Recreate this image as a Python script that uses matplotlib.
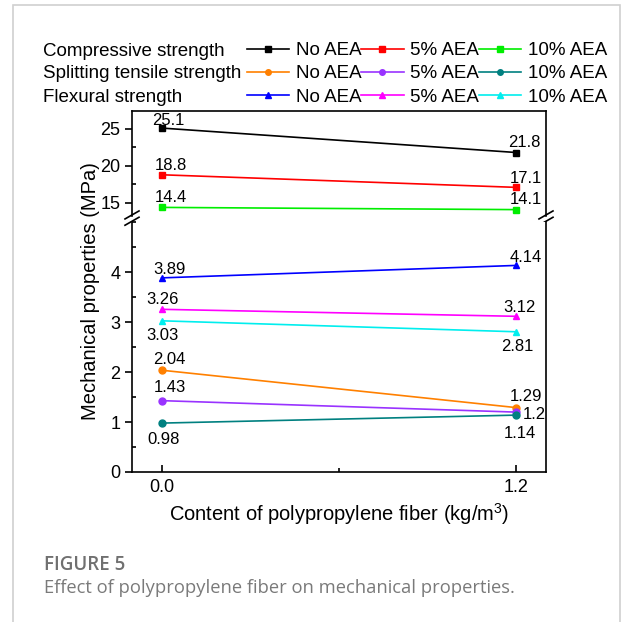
import matplotlib
matplotlib.use('Agg')
import matplotlib.pyplot as plt
from matplotlib.lines import Line2D
from matplotlib.patches import Rectangle
from matplotlib.ticker import MultipleLocator

plt.rcParams['font.family'] = ['Liberation Sans', 'DejaVu Sans']
plt.rcParams['mathtext.default'] = 'regular'

# data
fiber = [0.0, 1.2]
groups = ['Compressive strength', 'Splitting tensile strength', 'Flexural strength']
series_names = ['No AEA', '5% AEA', '10% AEA']
compressive = [[25.1, 21.8], [18.8, 17.1], [14.4, 14.1]]
splitting = [[2.04, 1.29], [1.43, 1.2], [0.98, 1.14]]
flexural = [[3.89, 4.14], [3.26, 3.12], [3.03, 2.81]]

colors = {
    'Compressive strength': ['#000000', '#ff0000', '#00ee00'],
    'Splitting tensile strength': ['#ff8000', '#9933ff', '#008080'],
    'Flexural strength': ['#0000ff', '#ff00ff', '#00eeee'],
}
markers = {'Compressive strength': 's', 'Splitting tensile strength': 'o', 'Flexural strength': '^'}

# label offsets in pixels (start, end) for each series
offsets = {
    'Compressive strength': [[(7, 8), (8, 10)], [(9, 9), (9, 9)], [(9, 10), (9, 10)]],
    'Splitting tensile strength': [[(8, 11), (10, 11)], [(8, 13), (6, -2)], [(2, -16), (3, -18)]],
    'Flexural strength': [[(8, 8), (9, 8)], [(1, 10), (3, 9)], [(1, -15), (1, -15)]],
}

fig = plt.figure(figsize=(6.25, 6.22), dpi=100)
W, H = 625, 622
left, right = 132 / W, 546 / W
top_bottom = (H - 216) / H
ax_top = fig.add_axes([left, top_bottom, right - left, (H - 111) / H - top_bottom])
low_top = (H - 222) / H
low_bottom = (H - 472) / H
ax_low = fig.add_axes([left, low_bottom, right - left, low_top - low_bottom])

data = {'Compressive strength': compressive,
        'Splitting tensile strength': splitting,
        'Flexural strength': flexural}

handles = {}
for g in groups:
    ax = ax_top if g == 'Compressive strength' else ax_low
    handles[g] = []
    for i, vals in enumerate(data[g]):
        c = colors[g][i]
        ax.plot(fiber, vals, color=c, marker=markers[g], markersize=5, lw=1.2)
        handles[g].append(Line2D([], [], color=c, marker=markers[g], markersize=4, lw=1.2))
        for j, v in enumerate(vals):
            dx, dy = offsets[g][i][j]
            ha = 'left' if (g == 'Splitting tensile strength' and i == 1 and j == 1) else 'center'
            ax.annotate(f'{v:g}', (fiber[j], v), xytext=(dx, dy),
                        textcoords='offset pixels', ha=ha, va='center', fontsize=12)

for ax in (ax_top, ax_low):
    ax.set_xlim(-0.1, 1.3)
    for s in ax.spines.values():
        s.set_linewidth(1.2)
ax_top.set_ylim(13.24, 27.4)
ax_low.set_ylim(0, 5.01)
ax_top.spines['bottom'].set_visible(False)
ax_low.spines['top'].set_visible(False)
ax_top.set_yticks([15, 20, 25])
ax_top.yaxis.set_minor_locator(MultipleLocator(2.5))
ax_low.set_yticks([0, 1, 2, 3, 4])
ax_low.yaxis.set_minor_locator(MultipleLocator(0.5))
ax_top.set_xticks([])
ax_top.tick_params(axis='x', which='both', bottom=False, labelbottom=False)
ax_low.set_xticks(fiber)
ax_low.set_xticklabels(['0.0', '1.2'])
ax_low.xaxis.set_minor_locator(MultipleLocator(0.6))
for ax in (ax_top, ax_low):
    ax.tick_params(axis='y', which='major', direction='out', length=5, width=1.2, labelsize=13)
    ax.tick_params(axis='y', which='minor', direction='in', length=3, width=1.2)
ax_low.tick_params(axis='x', which='major', direction='in', length=5, width=1.2, labelsize=13, pad=5)
ax_low.tick_params(axis='x', which='minor', direction='in', length=3, width=1.2)
ax_low.set_xlabel('Content of polypropylene fiber (kg/m$^3$)', fontsize=14.5, labelpad=4)

# break marks
dx, dy = 7 / 414, 4 / 105
for xpos in (0, 1):
    for yoff in (0.01, -0.05):
        ax_top.plot([xpos - dx, xpos + dx], [yoff - dy, yoff + dy], transform=ax_top.transAxes,
                    color='black', lw=1.2, clip_on=False)

fig.text(91 / W, (H - 291) / H, 'Mechanical properties (MPa)', rotation=90,
         ha='center', va='center', fontsize=14.5)

# legend: columns are No AEA / 5% AEA / 10% AEA, rows are the three properties
ordered_h, ordered_l = [], []
for i in range(3):
    for g in groups:
        ordered_h.append(handles[g][i])
        ordered_l.append(series_names[i])
fig.legend(ordered_h, ordered_l, ncol=3, loc='upper left', bbox_to_anchor=(247 / W, (H - 42) / H),
           frameon=False, fontsize=13.5, handlelength=2.25, handletextpad=0.35, columnspacing=0.0,
           labelspacing=0.33, borderpad=0, borderaxespad=0)
for k, g in enumerate(groups):
    fig.text(43 / W, (H - [51, 74, 97][k]) / H, g, ha='left', va='center', fontsize=13.5)

# caption and frame
fig.text(44 / W, (H - 565) / H, 'FIGURE 5', family='Open Sans', fontweight='semibold',
         color='#707070', fontsize=13.5, ha='left', va='center')
fig.text(44 / W, (H - 588) / H, 'Effect of polypropylene fiber on mechanical properties.',
         family='Open Sans', color='#7a7a7a', fontsize=13.2, ha='left', va='center')
fig.patches.append(Rectangle((12.5 / W, -0.1), (620 - 12.5) / W, 1.1 - 5 / H,
                             transform=fig.transFigure, fill=False, edgecolor='#d0d0d0', lw=1.2))

fig.savefig('out.png', dpi=100)
